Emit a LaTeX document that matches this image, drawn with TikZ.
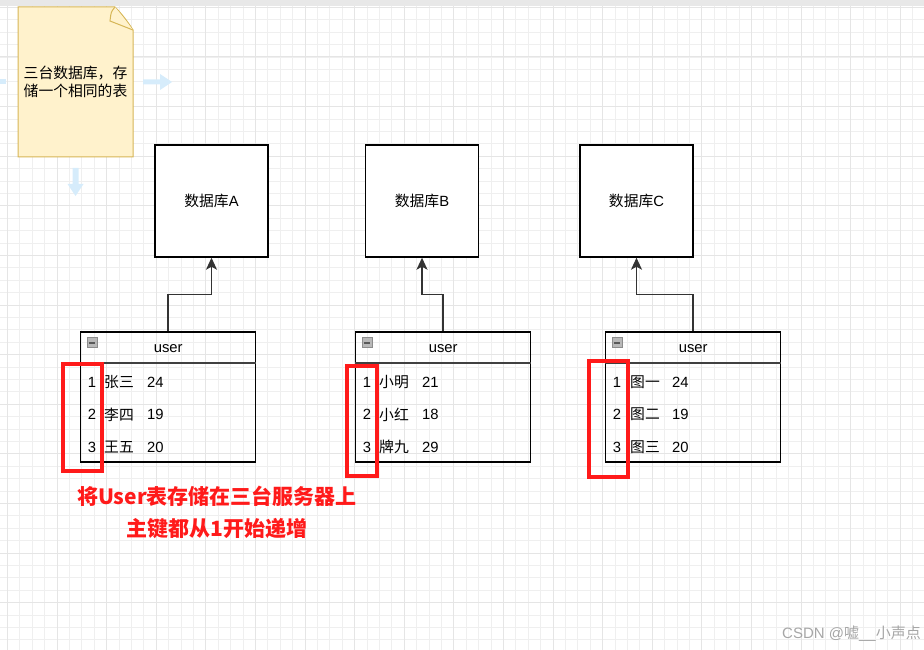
\documentclass[tikz,border=0pt]{standalone}
\usepackage{fontspec}
\setmainfont{Liberation Sans}
\newfontfamily\cjk{Noto Sans CJK SC}
\usepackage{tikz}
\usetikzlibrary{arrows.meta,positioning,calc}
\definecolor{notefill}{HTML}{FFF2CC}
\definecolor{noteline}{HTML}{D6B656}
\definecolor{hoverblue}{HTML}{D6ECFB}
\definecolor{gridminor}{HTML}{EFEFEF}
\definecolor{gridmajor}{HTML}{E5E5E5}
\definecolor{linkgray}{HTML}{333333}
\definecolor{markred}{HTML}{FF1A1A}

\begin{document}
\begin{tikzpicture}[x=1pt, y=-1pt,
    dbbox/.style={rectangle, draw, line width=1.4pt, fill=white, minimum width=113pt, minimum height=112pt, font=\fontsize{14.8}{17}\selectfont},
    tablebox/.style={rectangle, draw, line width=1.3pt, minimum width=175pt, minimum height=130pt},
    sepline/.style={draw=black!75, line width=2pt},
    foldicon/.style={rectangle, draw=black!45, fill=black!28, line width=0.8pt, minimum size=10pt, inner sep=0pt},
    celltext/.style={anchor=west, inner sep=0pt, font=\fontsize{14.8}{17}\selectfont},
    numtext/.style={anchor=center, inner sep=0pt, font=\fontsize{14.8}{17}\selectfont},
    link/.style={draw=linkgray, line width=1.5pt, -{Stealth[length=12pt,width=11pt,inset=3pt]}},
    hilite/.style={rectangle, draw=markred, line width=3.2pt, inner sep=0pt}
]
    \useasboundingbox (0,0) rectangle (924,650);
    % background grid
    \foreach \i in {0,...,74} \draw[gridminor, line width=0.5pt] ({7.2+12.4*\i},0) -- ({7.2+12.4*\i},650);
    \foreach \j in {0,...,52} \draw[gridminor, line width=0.5pt] (0,{7.2+12.4*\j}) -- (924,{7.2+12.4*\j});
    \foreach \i in {0,...,18} \draw[gridmajor, line width=0.6pt] ({7.2+49.6*\i},0) -- ({7.2+49.6*\i},650);
    \foreach \j in {0,...,13} \draw[gridmajor, line width=0.6pt] (0,{7.2+49.6*\j}) -- (924,{7.2+49.6*\j});
    \fill[black!9] (0,0) rectangle (924,6);

    % note
    \draw[noteline, fill=notefill, line width=1pt] (18,7) -- (115,7) .. controls (122,14) and (128,22) .. (133,30) -- (133,157) -- (18,157) -- cycle;
    \draw[noteline, fill=notefill, line width=1pt] (115,7) .. controls (111,12) .. (110,21) -- (133,30);
    \node[align=center, font=\cjk\fontsize{14.8}{18}\selectfont] (note) at (75.5,82) {三台数据库，存\\储一个相同的表};

    % hover arrows
    \fill[hoverblue] (143,79.5) -- (160,79.5) -- (160,74) -- (172,82) -- (160,90) -- (160,84.5) -- (143,84.5) -- cycle;
    \fill[hoverblue] (0,79.5) rectangle (6,84.5);
    \fill[hoverblue] (72.5,168) -- (78.5,168) -- (78.5,184) -- (83.5,184) -- (75.5,196) -- (67.5,184) -- (72.5,184) -- cycle;

    % databases
    \node[dbbox] (dbA) at (211.5,201) {{\cjk 数据库}A};
    \node[dbbox] (dbB) at (422,201) {{\cjk 数据库}B};
    \node[dbbox] (dbC) at (636.5,201) {{\cjk 数据库}C};

    % user tables
    \node[tablebox] (tA) at (168.2,397) {};
    \node[tablebox] (tB) at (443.2,397) {};
    \node[tablebox] (tC) at (693.2,397) {};
    \foreach \t in {tA,tB,tC} {
        \draw[sepline] ([yshift=-32pt]\t.north west) -- ([yshift=-32pt]\t.north east);
        \node[numtext] (\t-head) at ([yshift=-17pt]\t.north) {user};
        \node[foldicon] (\t-icon) at ([xshift=12pt,yshift=-11.5pt]\t.north west) {};
        \draw[black!65, line width=1.3pt] ([xshift=2pt]\t-icon.west) -- ([xshift=-2pt]\t-icon.east);
    }
    \foreach \n/\name/\age [count=\r from 0] in {1/张三/24,2/李四/19,3/王五/20} {
        \node[numtext] (nA\n) at (92,{382+32.5*\r}) {\n};
        \node[celltext] (sA\n) at (104,{382+32.5*\r}) {{\cjk\name}};
        \node[celltext] (aA\n) at (147,{382+32.5*\r}) {\age};
    }
    \foreach \n/\name/\age [count=\r from 0] in {1/小明/21,2/小红/18,3/牌九/29} {
        \node[numtext] (nB\n) at (367,{382+32.5*\r}) {\n};
        \node[celltext] (sB\n) at (379,{382+32.5*\r}) {{\cjk\name}};
        \node[celltext] (aB\n) at (422,{382+32.5*\r}) {\age};
    }
    \foreach \n/\name/\age [count=\r from 0] in {1/图一/24,2/图二/19,3/图三/20} {
        \node[numtext] (nC\n) at (617,{382+32.5*\r}) {\n};
        \node[celltext] (sC\n) at (630,{382+32.5*\r}) {{\cjk\name}};
        \node[celltext] (aC\n) at (672,{382+32.5*\r}) {\age};
    }

    % connectors
    \draw[link] (tA.north) -- ++(0,-37) -| (dbA.south);
    \draw[link] (tB.north) -- ++(0,-37) -| (dbB.south);
    \draw[link] (tC.north) -- ++(0,-37) -| (dbC.south);

    % primary key marks
    \node[hilite, minimum width=39pt, minimum height=107pt] (mA) at (82.5,417.5) {};
    \node[hilite, minimum width=30pt, minimum height=110pt] (mB) at (362,421) {};
    \node[hilite, minimum width=39pt, minimum height=116pt] (mC) at (608.5,419) {};

    \node[align=center, text=markred, font=\cjk\bfseries\fontsize{21}{32}\selectfont] (caption) at (217,512) {将User表存储在三台服务器上\\主键都从1开始递增};
    \node[anchor=east, text=black!35, inner sep=0pt, font=\fontsize{15}{17}\selectfont] (wm) at (921,634) {CSDN @{\cjk 嘘}\_\_{\cjk 小声点}};
\end{tikzpicture}
\end{document}
